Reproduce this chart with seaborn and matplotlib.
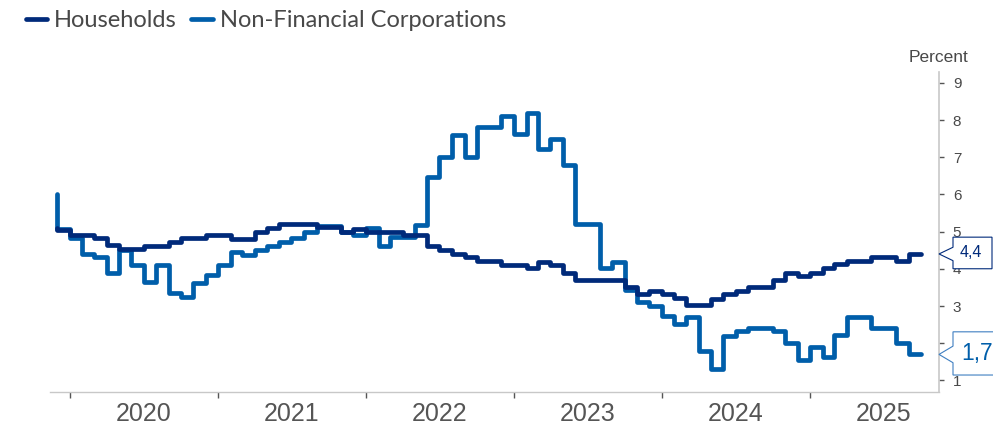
import numpy as np
import pandas as pd
import matplotlib
matplotlib.use("Agg")
import matplotlib.pyplot as plt
from matplotlib.lines import Line2D
from matplotlib.patches import Polygon
from matplotlib.transforms import IdentityTransform
import seaborn as sns

# Monthly lending rates (percent), November 2019 through September 2025
first_month = "2019-11"
households = [
    5.10, 5.05,
    4.92, 4.92, 4.82, 4.64, 4.52, 4.52, 4.61, 4.61, 4.71, 4.82, 4.82, 4.91,
    4.91, 4.80, 4.80, 5.00, 5.10, 5.20, 5.20, 5.20, 5.13, 5.13, 5.00, 5.08,
    5.00, 5.00, 5.00, 4.90, 4.90, 4.62, 4.50, 4.41, 4.32, 4.22, 4.21, 4.10,
    4.10, 4.01, 4.19, 4.10, 3.90, 3.70, 3.70, 3.70, 3.70, 3.52, 3.32, 3.40,
    3.32, 3.22, 3.02, 3.02, 3.19, 3.32, 3.41, 3.50, 3.50, 3.71, 3.89, 3.80,
    3.89, 4.01, 4.12, 4.22, 4.22, 4.32, 4.32, 4.22, 4.40,
]
non_financial_corporations = [
    6.00, 5.08,
    4.83, 4.41, 4.32, 3.88, 4.50, 4.10, 3.65, 4.10, 3.34, 3.25, 3.61, 3.83,
    4.10, 4.46, 4.37, 4.50, 4.61, 4.72, 4.83, 4.99, 5.15, 5.15, 5.00, 4.90,
    5.10, 4.62, 4.86, 4.86, 5.19, 6.47, 7.01, 7.60, 7.00, 7.80, 7.80, 8.10,
    7.62, 8.20, 7.21, 7.48, 6.80, 5.20, 5.20, 4.01, 4.19, 3.43, 3.11, 3.00,
    2.73, 2.53, 2.71, 1.80, 1.32, 2.20, 2.33, 2.42, 2.42, 2.33, 2.01, 1.55,
    1.90, 1.63, 2.22, 2.71, 2.71, 2.42, 2.42, 2.01, 1.70,
]
series_names = ["Households", "Non-Financial Corporations"]
year_labels = ["2020", "2021", "2022", "2023", "2024", "2025"]
y_ticks = [1, 2, 3, 4, 5, 6, 7, 8, 9]

DARK = "#002a7a"
LIGHT = "#005eaa"
LIGHT_EDGE = "#3f7fc1"
TEXT = "#484848"

# each monthly value sits at the end of its month and is drawn back over it
months = pd.period_range(first_month, periods=len(households), freq="M")
month_end = (months + 1).to_timestamp()

df = pd.DataFrame({
    "date": np.concatenate([month_end, month_end]),
    "value": households + non_financial_corporations,
    "series": [series_names[0]] * len(households)
              + [series_names[1]] * len(non_financial_corporations),
})

sns.set_style("white")
plt.rcParams["font.family"] = ["Liberation Sans", "DejaVu Sans"]

W, H = 993, 430
fig = plt.figure(figsize=(W / 100, H / 100), dpi=100)
ax = fig.add_axes([50 / W, 1 - 392 / H, (939 - 50) / W, (392 - 72) / H])

for name, color, z in [(series_names[1], LIGHT, 2), (series_names[0], DARK, 3)]:
    sns.lineplot(data=df[df["series"] == name], x="date", y="value",
                 color=color, drawstyle="steps-pre", linewidth=3.4,
                 solid_joinstyle="round", ax=ax, zorder=z, legend=False)

ax.set_xlim(pd.Timestamp("2019-11-13"), pd.Timestamp("2025-11-15"))
ax.set_ylim(0.69, 9.29)
ax.set_xlabel("")
ax.set_ylabel("")
ax.grid(False)

# right-hand value axis
ax.yaxis.tick_right()
ax.set_yticks(y_ticks)
ax.set_yticklabels([str(t) for t in y_ticks])
ax.tick_params(axis="y", which="major", left=False, right=True,
               direction="out", length=3.4, width=1, color="#555555",
               pad=6.5, labelsize=11, labelcolor=TEXT)

# year boundaries as ticks, year names centred in between
ax.set_xticks([pd.Timestamp(f"{y}-01-01") for y in year_labels])
ax.set_xticklabels([])
ax.set_xticks([pd.Timestamp(f"{y}-07-01") for y in year_labels], minor=True)
ax.set_xticklabels(year_labels, minor=True)
ax.tick_params(axis="x", which="major", bottom=True, direction="out",
               length=4.3, width=1, color="#555555")
ax.tick_params(axis="x", which="minor", bottom=True, length=0, pad=7.5,
               labelsize=18, labelcolor="#555555")

for side in ("left", "top"):
    ax.spines[side].set_visible(False)
ax.spines["right"].set_color("#c8c8c8")
ax.spines["right"].set_linewidth(1.2)
ax.spines["bottom"].set_color("#c8c8c8")
ax.spines["bottom"].set_linewidth(1.0)

fig.text(939 / W, 1 - 58 / H, "Percent", ha="center", va="center",
         fontsize=12.5, color=TEXT)

handles = [Line2D([0], [0], color=DARK, lw=3.4),
           Line2D([0], [0], color=LIGHT, lw=3.4)]
fig.legend(handles, series_names, loc="upper left",
           bbox_to_anchor=(26 / W, 1 - 10 / H), ncol=2, frameon=False,
           prop={"family": ["Lato", "DejaVu Sans"], "size": 17},
           labelcolor=TEXT, handlelength=0.9, handletextpad=0.3,
           columnspacing=0.6, borderpad=0, borderaxespad=0)


def callout(value, text, edge, text_color, size, half_h, ptr, right, text_dx):
    """Pointer box attached to the value axis at the given level."""
    tx = ax.transAxes.transform((1, 0))[0]
    ty = ax.transData.transform((ax.get_xlim()[0], value))[1]
    gap = 14
    verts = [(tx, ty), (tx + gap, ty + ptr), (tx + gap, ty + half_h + 1),
             (tx + right, ty + half_h + 1), (tx + right, ty - half_h + 1),
             (tx + gap, ty - half_h + 1), (tx + gap, ty - ptr)]
    fig.add_artist(Polygon(verts, closed=True, facecolor="white",
                           edgecolor=edge, linewidth=0.8,
                           transform=IdentityTransform(), zorder=4))
    fig.text((tx + text_dx) / W, (ty + 1) / H, text, ha="center",
             va="center", fontsize=size, color=text_color, zorder=5)


def fmt(v):
    return f"{v:.1f}".replace(".", ",")


callout(households[-1], fmt(households[-1]), DARK, DARK, 11.5,
        15.8, 6.7, 53, 32)
callout(non_financial_corporations[-1], fmt(non_financial_corporations[-1]),
        LIGHT_EDGE, LIGHT, 16.5, 21.6, 8.3, 60, 38)

fig.savefig("out.png", dpi=100, facecolor="white")
